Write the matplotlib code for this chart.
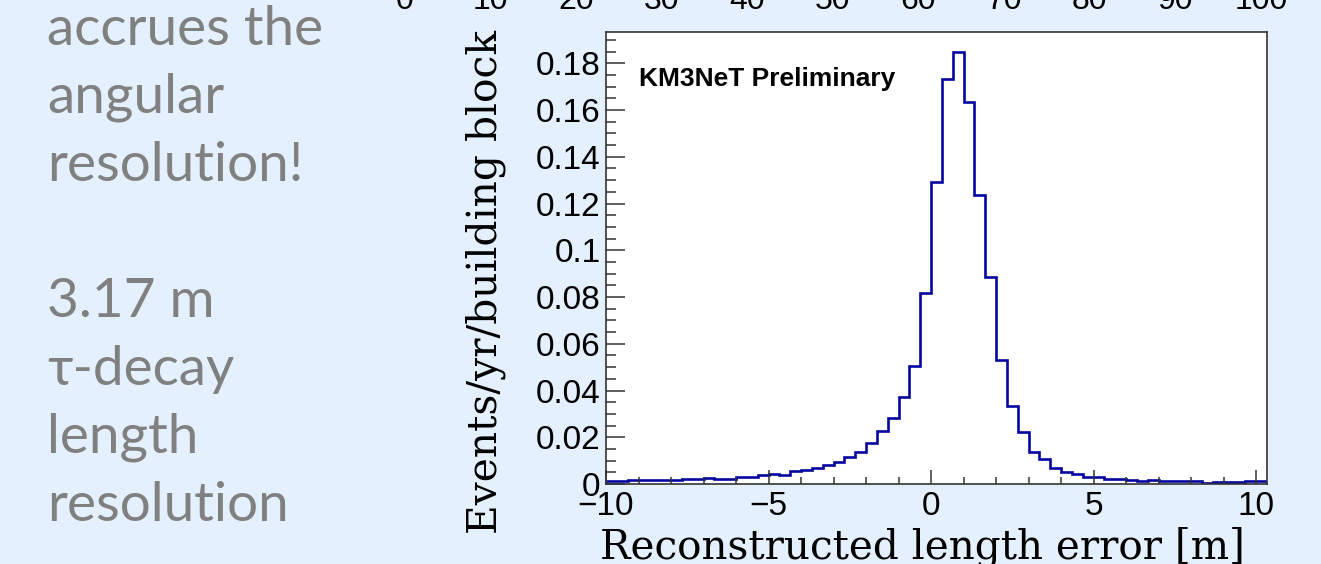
import numpy as np
import matplotlib
matplotlib.use('agg')
import matplotlib.pyplot as plt
from matplotlib.ticker import MultipleLocator, FuncFormatter

W, H = 1321, 564

# histogram: 61 bins of 1/3 m from -10 m
bin_edges = np.linspace(-10.0, 10.0 + 1.0 / 3.0, 62)
events = [
    0.0014, 0.0014, 0.0017, 0.0017, 0.0017, 0.0017, 0.0017, 0.0021, 0.0021, 0.0026,
    0.0023, 0.0023, 0.0031, 0.0031, 0.0037, 0.0043, 0.0037, 0.0054, 0.0060, 0.0067,
    0.0081, 0.0094, 0.0117, 0.0136, 0.0177, 0.0228, 0.0281, 0.0374, 0.0506, 0.0816,
    0.1294, 0.1733, 0.1847, 0.1636, 0.1237, 0.0884, 0.0531, 0.0335, 0.0224, 0.0136,
    0.0107, 0.0067, 0.0050, 0.0043, 0.0031, 0.0031, 0.0023, 0.0020, 0.0016, 0.0011,
    0.0016, 0.0013, 0.0013, 0.0011, 0.0011, 0.0006, 0.0009, 0.0009, 0.0009, 0.0013,
    0.0013,
]

side_lines = ['accrues the', 'angular', 'resolution!', '', '3.17 m', 'τ-decay', 'length', 'resolution']
top_ticks = ['0', '10', '20', '30', '40', '50', '60', '70', '80', '90', '100']

bg = '#e4f0fd'
fig = plt.figure(figsize=(W / 100, H / 100), dpi=100, facecolor=bg)

def fx(px): return px / W
def fy(py): return 1.0 - py / H

# slide text on the left
for i, line in enumerate(side_lines):
    if line:
        fig.text(fx(47), fy(45 + 68 * i), line, color='#808080', fontsize=39.5,
                 family=['Lato', 'DejaVu Sans'], ha='left', va='baseline')

# tick labels of the plot above, cut off at the top edge
for i, t in enumerate(top_ticks):
    fig.text(fx(405 + 85.6 * i), fy(9), t, fontsize=23, family='Liberation Sans',
             ha='center', va='baseline', color='black')

ax = fig.add_axes([fx(606), fy(484), fx(1267 - 606), (484 - 31.7) / H])
ax.set_facecolor('white')
ax.stairs(events, bin_edges, baseline=None, color='#0505a0', linewidth=1.9)

ax.set_xlim(-10, 10.0 + 1.0 / 3.0)
ax.set_ylim(0, 0.1935)
ax.xaxis.set_major_locator(MultipleLocator(5))
ax.xaxis.set_minor_locator(MultipleLocator(1))
ax.yaxis.set_major_locator(MultipleLocator(0.02))
ax.yaxis.set_minor_locator(MultipleLocator(0.005))
ax.yaxis.set_major_formatter(FuncFormatter(lambda v, p: '%g' % round(v, 4)))
ax.xaxis.set_major_formatter(FuncFormatter(lambda v, p: ('%g' % v).replace('-', '\u2212')))

ax.tick_params(axis='both', which='both', direction='in', color='#333333', width=1.1,
               top=False, right=False)
ax.tick_params(axis='y', which='major', length=14, pad=4)
ax.tick_params(axis='y', which='minor', length=7)
ax.tick_params(axis='x', which='major', length=10, pad=5)
ax.tick_params(axis='x', which='minor', length=5)
for lab in ax.get_xticklabels() + ax.get_yticklabels():
    lab.set_family('Liberation Sans')
    lab.set_fontsize(24)
for s in ax.spines.values():
    s.set_color('#333333')
    s.set_linewidth(1.2)

ax.text(0.05, 0.88, 'KM3NeT Preliminary', transform=ax.transAxes, fontsize=19,
        fontweight='bold', family='Liberation Sans', ha='left', va='baseline')

fig.text(fx(506), fy(30), 'Events/yr/building block', rotation=90, fontsize=29.3,
         family='DejaVu Serif', ha='right', va='top')
fig.text(fx(1245), fy(559), 'Reconstructed length error [m]', fontsize=29.2,
         family='DejaVu Serif', ha='right', va='baseline')

fig.savefig('out.png', dpi=100, facecolor=bg)
